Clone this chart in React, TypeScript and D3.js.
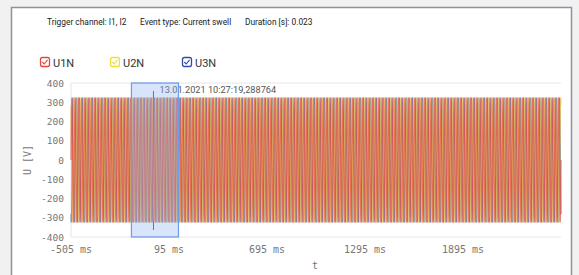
import React from 'react';
import * as d3 from 'd3';

// channels shown in the legend
const channels = ['U1N', 'U2N', 'U3N'];
const channelColors = ['#e5483f', '#f0c63a', '#3a55a8'];
// phase offset of each channel, in samples of one cycle
const channelShift = [0, 8, 16];
// one recorded cycle (50 Hz, 24 samples), volts
const cycleSamples = [0, 84, 163, 230, 282, 314, 325, 314, 282, 230, 163, 84,
    0, -84, -163, -230, -282, -314, -325, -314, -282, -230, -163, -84];
// recording window, ms
const timeRange = [-505, 2495];
const samplePeriod = 20 / 24;

const xTicks = [-505, 95, 695, 1295, 1895];
const yTicks = [-400, -300, -200, -100, 0, 100, 200, 300, 400];

const triggerTime = 0;
const selection = [-135, 153];
const timestamp = '13.01.2021 10:27:19,288764';
const header = ['Trigger channel: I1, I2', 'Event type: Current swell', 'Duration [s]: 0.023'];
const headerX = [47, 140, 245];

const width = 579, height = 275;
const margin = { top: 83, right: 18, bottom: 38, left: 71 };
const mono = '"DejaVu Sans Mono", monospace';
const sans = 'Roboto, "Noto Sans", sans-serif';

function buildSeries(shift: number) {
    const n = Math.round((timeRange[1] - timeRange[0]) / samplePeriod);
    const pts: [number, number][] = [];
    for (let i = 0; i <= n; i++) {
        pts.push([timeRange[0] + i * samplePeriod, cycleSamples[(i + shift) % cycleSamples.length]]);
    }
    return pts;
}

export default function App() {
    const x = d3.scaleLinear().domain(timeRange).range([margin.left, width - margin.right]);
    const y = d3.scaleLinear().domain([-400, 400]).range([height - margin.bottom, margin.top]);
    const line = d3.line<[number, number]>().x(d => x(d[0])).y(d => y(d[1]));
    const series = channels.map((c, i) => buildSeries(channelShift[i]));
    const drawOrder = [2, 1, 0];
    const legendColors = ['#e5483f', '#eee03a', '#2f4fa6'];
    const legendX = [40, 110, 182];

    return (
        <div style={{ position: 'fixed', left: 0, top: 0 }}>
            <svg width={width} height={height} style={{ display: 'block' }}>
                <rect x={0} y={0} width={width} height={height} fill="#f1f1f1" />
                <rect x={11.5} y={7.5} width={560} height={280} fill="#fff" stroke="#8d92a0" strokeWidth={1.5} />

                {header.map((t, i) => (
                    <text key={t} x={headerX[i]} y={25} fontFamily={sans} fontSize={8.4} fill="#222">{t}</text>
                ))}

                {channels.map((c, i) => (
                    <g key={c} transform={`translate(${legendX[i]},57)`}>
                        <rect x={0.5} y={0.5} width={9} height={9} rx={2} fill="#fff" stroke={legendColors[i]} strokeWidth={1.3} />
                        <path d="M2.3,5 L4.2,7 L7.6,2.8" fill="none" stroke={legendColors[i]} strokeWidth={1.1} />
                        <text x={13} y={9.5} fontFamily={sans} fontSize={11} fill="#333">{c}</text>
                    </g>
                ))}

                {/* grid frame */}
                <line x1={margin.left} x2={width - margin.right} y1={y(400)} y2={y(400)} stroke="#e6e6e6" />
                <line x1={margin.left} x2={width - margin.right} y1={y(-400)} y2={y(-400)} stroke="#e6e6e6" />
                <line x1={margin.left} x2={margin.left} y1={y(400)} y2={y(-400)} stroke="#e6e6e6" />

                {/* trigger marker */}
                <line x1={x(triggerTime)} x2={x(triggerTime)} y1={91} y2={230} stroke="#555" strokeWidth={1} />
                <text x={x(triggerTime) + 6} y={93} fontFamily={sans} fontSize={9.2} fill="#555">{timestamp}</text>

                {drawOrder.map(i => (
                    <path key={channels[i]} d={line(series[i]) || ''} fill="none" stroke={channelColors[i]} strokeWidth={1.2} strokeOpacity={0.7} />
                ))}

                <rect x={x(selection[0])} y={y(400)} width={x(selection[1]) - x(selection[0])} height={y(-400) - y(400)}
                    fill="#8fb3ef" fillOpacity={0.35} stroke="#6c9be8" strokeWidth={1.2} />

                {yTicks.map(t => (
                    <text key={t} x={64} y={y(t) + 3.5} textAnchor="end" fontFamily={mono} fontSize={9.5} fill="#777">{t}</text>
                ))}
                {xTicks.map(t => (
                    <text key={t} x={x(t)} y={253} textAnchor="middle" fontFamily={mono} fontSize={10} fill="#777">{`${t} ms`}</text>
                ))}
                <text transform={`translate(31,${(y(400) + y(-400)) / 2}) rotate(-90)`} textAnchor="middle" fontFamily={mono} fontSize={10} fill="#777">U [V]</text>
                <text x={315} y={269} textAnchor="middle" fontFamily={mono} fontSize={10} fill="#777">t</text>
            </svg>
        </div>
    );
}
